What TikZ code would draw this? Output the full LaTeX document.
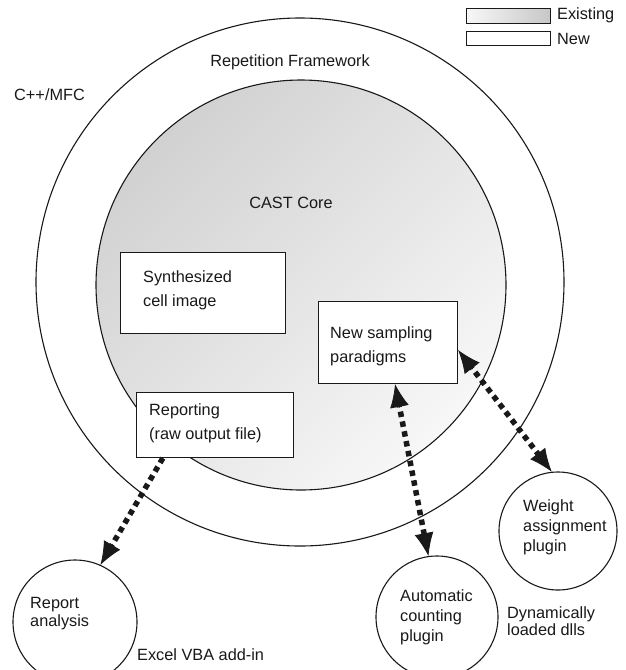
\documentclass[tikz,border=0pt]{standalone}
\usepackage{fontspec}
\setmainfont{Liberation Sans}
\usetikzlibrary{arrows.meta,calc}
\begin{document}
\begin{tikzpicture}[x=1pt,y=-1pt,
  txt/.style={font=\fontsize{16.3}{24}\selectfont, inner sep=0pt, anchor=west, align=left, text=black!90},
  ring/.style={circle, draw=black!90, line width=1.1pt, inner sep=0pt},
  box/.style={draw=black!90, line width=1.1pt, fill=white, inner sep=0pt, anchor=north west},
  dep/.style={line width=5.5pt, dash pattern=on 5.5pt off 4.5pt, black!90},
  head/.style={-{Latex[length=23pt,width=19pt]}, line width=0.8pt, black!90}
]
\useasboundingbox (0,0) rectangle (626,670);
\fill[white] (0,0) rectangle (626,670);

% outer and inner circles
\node[ring, minimum size=528pt] (outer) at (300,282) {};
\node[ring, minimum size=410pt, top color=black!18, bottom color=black!3, shading angle=45] (inner) at (301,285) {};

% legend
\node[box, minimum width=84pt, minimum height=15pt, left color=black!3, right color=black!22] (legex) at (466,8) {};
\node[box, minimum width=84pt, minimum height=14pt] (legnew) at (466,31) {};
\node[txt] (legextxt) at (557,15) {Existing};
\node[txt] (legnewtxt) at (557,39) {New};

% labels
\node[txt, anchor=center] (rf) at (290,62) {Repetition Framework};
\node[txt] (cpp) at (14,95) {C++/MFC};
\node[txt, anchor=center] (cast) at (291,203) {CAST Core};

% boxes
\node[box, minimum width=165pt, minimum height=81pt] (syn) at (120,252) {};
\node[txt] (syntxt) at (143,290) {Synthesized\\cell image};
\node[box, minimum width=139pt, minimum height=82pt] (ns) at (318,301) {};
\node[txt] (nstxt) at (330,346) {New sampling\\paradigms};
\node[box, minimum width=157pt, minimum height=65pt] (rep) at (136,392) {};
\node[txt] (reptxt) at (149,423) {Reporting\\(raw output file)};

% small circles
\node[ring, minimum size=124pt] (ra) at (75,622) {};
\node[txt, font=\fontsize{16.3}{18}\selectfont] (ratxt) at (30,614) {Report\\analysis};
\node[ring, minimum size=122pt] (ac) at (437,617) {};
\node[txt, font=\fontsize{16.3}{20}\selectfont] (actxt) at (400,617) {Automatic\\counting\\plugin};
\node[ring, minimum size=118pt] (wa) at (558,531) {};
\node[txt, font=\fontsize{16.3}{20}\selectfont] (watxt) at (523,527) {Weight\\assignment\\plugin};

\node[txt] (excel) at (137,655) {Excel VBA add-in};
\node[txt, font=\fontsize{16.3}{17}\selectfont] (dyn) at (507,621) {Dynamically\\loaded dlls};

% connector end points
\coordinate (p1) at ($(rep.south west)!0.17!(rep.south east)$);
\coordinate (q1) at (ra.66);
\coordinate (p2) at ($(ns.south west)!0.55!(ns.south east)$);
\coordinate (q2) at (ac.98);
\coordinate (p3) at ($(ns.north east)!0.59!(ns.south east)$);
\coordinate (q3) at (wa.96);

% connectors
\draw[dep, shorten >=18pt] (p1) -- (q1);
\draw[head] ($(q1)!24pt!(p1)$) -- (q1);

\draw[dep, shorten >=18pt, shorten <=18pt] (p2) -- (q2);
\draw[head] ($(q2)!24pt!(p2)$) -- (q2);
\draw[head] ($(p2)!24pt!(q2)$) -- (p2);

\draw[dep, shorten >=18pt, shorten <=18pt] (p3) -- (q3);
\draw[head] ($(q3)!24pt!(p3)$) -- (q3);
\draw[head] ($(p3)!24pt!(q3)$) -- (p3);
\end{tikzpicture}
\end{document}
